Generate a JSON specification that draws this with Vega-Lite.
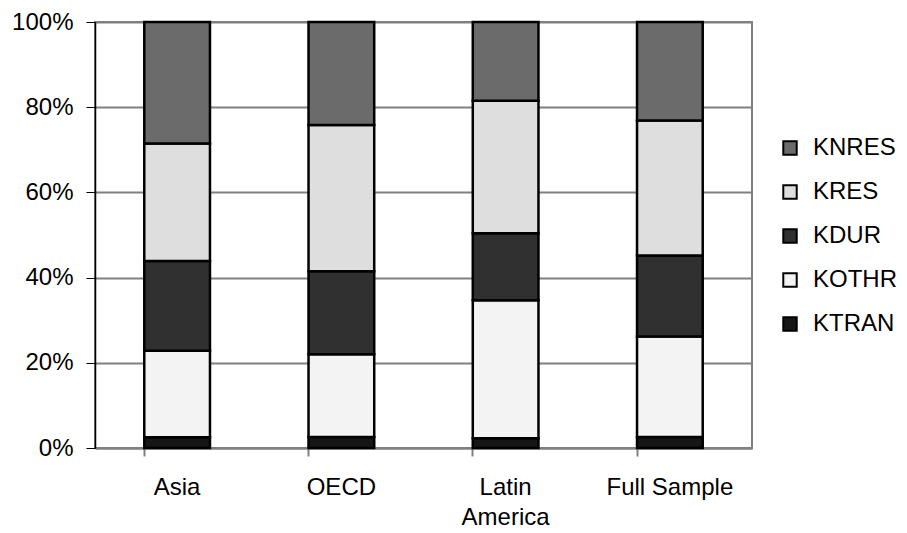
{
  "$schema": "https://vega.github.io/schema/vega-lite/v6.json",
  "autosize": "none",
  "width": 657,
  "height": 426,
  "padding": {"left": 95, "top": 22, "right": 155, "bottom": 85},
  "background": "white",
  "config": {
    "font": "Liberation Sans",
    "view": {"stroke": "#808080", "strokeWidth": 2}
  },
  "data": {
    "values": [
      {"region": "Asia", "series": "KTRAN", "rank": 1, "value": 2.5},
      {"region": "Asia", "series": "KOTHR", "rank": 2, "value": 20.3},
      {"region": "Asia", "series": "KDUR", "rank": 3, "value": 21.1},
      {"region": "Asia", "series": "KRES", "rank": 4, "value": 27.6},
      {"region": "Asia", "series": "KNRES", "rank": 5, "value": 28.5},
      {"region": "OECD", "series": "KTRAN", "rank": 1, "value": 2.6},
      {"region": "OECD", "series": "KOTHR", "rank": 2, "value": 19.4},
      {"region": "OECD", "series": "KDUR", "rank": 3, "value": 19.5},
      {"region": "OECD", "series": "KRES", "rank": 4, "value": 34.3},
      {"region": "OECD", "series": "KNRES", "rank": 5, "value": 24.2},
      {"region": "Latin America", "series": "KTRAN", "rank": 1, "value": 2.3},
      {"region": "Latin America", "series": "KOTHR", "rank": 2, "value": 32.4},
      {"region": "Latin America", "series": "KDUR", "rank": 3, "value": 15.7},
      {"region": "Latin America", "series": "KRES", "rank": 4, "value": 31.1},
      {"region": "Latin America", "series": "KNRES", "rank": 5, "value": 18.5},
      {"region": "Full Sample", "series": "KTRAN", "rank": 1, "value": 2.6},
      {"region": "Full Sample", "series": "KOTHR", "rank": 2, "value": 23.6},
      {"region": "Full Sample", "series": "KDUR", "rank": 3, "value": 19.0},
      {"region": "Full Sample", "series": "KRES", "rank": 4, "value": 31.7},
      {"region": "Full Sample", "series": "KNRES", "rank": 5, "value": 23.1}
    ]
  },
  "layer": [
    {
      "mark": {"type": "bar", "stroke": "black", "strokeWidth": 2.5},
      "encoding": {
        "x": {
          "field": "region", "type": "nominal",
          "sort": ["Asia", "OECD", "Latin America", "Full Sample"],
          "scale": {"paddingInner": 0.6, "paddingOuter": 0.3},
          "axis": {
            "title": null, "orient": "bottom", "labelAngle": 0, "ticks": false, "domain": false,
            "labelFontSize": 24, "labelColor": "black", "labelPadding": 27,
            "labelLineHeight": 30,
            "labelExpr": "datum.label == 'Latin America' ? ['Latin', 'America'] : datum.label"
          }
        },
        "y": {
          "field": "value", "type": "quantitative", "stack": "normalize",
          "axis": {
            "title": null, "format": ".0%", "values": [0, 0.2, 0.4, 0.6, 0.8, 1],
            "labelFontSize": 24, "labelColor": "black", "labelPadding": 13,
            "tickSize": 9, "tickColor": "black", "domainColor": "black",
            "gridColor": "#808080", "gridWidth": 2, "domainWidth": 1.5
          }
        },
        "color": {
          "field": "series", "type": "nominal",
          "scale": {
            "domain": ["KNRES", "KRES", "KDUR", "KOTHR", "KTRAN"],
            "range": ["#6b6b6b", "#dedede", "#303030", "#f3f3f3", "#161616"]
          },
          "legend": {
            "title": null, "orient": "none", "legendX": 683, "legendY": 114,
            "symbolType": "square", "symbolSize": 180, "symbolStrokeColor": "black",
            "symbolStrokeWidth": 2, "labelFontSize": 24, "labelColor": "black",
            "rowPadding": 20, "labelOffset": 11
          }
        },
        "order": {"field": "rank", "type": "quantitative"}
      }
    },
    {
      "mark": {"type": "bar", "opacity": 0},
      "encoding": {
        "x": {
          "field": "region", "type": "nominal",
          "sort": ["Asia", "OECD", "Latin America", "Full Sample"],
          "axis": {
            "title": null, "orient": "bottom", "labels": false, "bandPosition": 0, "ticks": true,
            "tickSize": 8, "tickColor": "#808080", "tickWidth": 2,
            "domainColor": "#808080", "domainWidth": 2
          }
        }
      }
    }
  ],
  "resolve": {"axis": {"x": "independent"}}
}
